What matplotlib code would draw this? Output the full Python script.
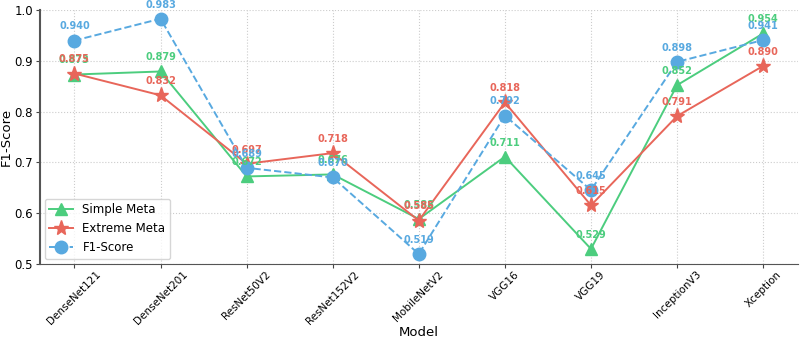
import matplotlib
matplotlib.use('Agg')
import matplotlib.pyplot as plt
import numpy as np

models = ['DenseNet121', 'DenseNet201', 'ResNet50V2', 'ResNet152V2', 'MobileNetV2',
          'VGG16', 'VGG19', 'InceptionV3', 'Xception']
simple_meta = [0.873, 0.879, 0.672, 0.676, 0.588, 0.711, 0.529, 0.852, 0.954]
extreme_meta = [0.875, 0.832, 0.697, 0.718, 0.585, 0.818, 0.615, 0.791, 0.890]
f1_score = [0.940, 0.983, 0.689, 0.670, 0.519, 0.792, 0.645, 0.898, 0.941]

green = '#4ccd7e'
red = '#e8665a'
blue = '#58a9e0'

fig, ax = plt.subplots(figsize=(8, 3.38), dpi=100)
x = np.arange(len(models))

ax.plot(x, simple_meta, '-^', color=green, lw=1.4, ms=9, label='Simple Meta')
ax.plot(x, extreme_meta, '-*', color=red, lw=1.4, ms=11, label='Extreme Meta')
ax.plot(x, f1_score, '--o', color=blue, lw=1.4, ms=9, label='F1-Score')

for vals, c in [(simple_meta, green), (extreme_meta, red), (f1_score, blue)]:
    for xi, v in zip(x, vals):
        ax.annotate(f'{v:.3f}', (xi, v), textcoords='offset points', xytext=(0, 8),
                    ha='center', fontsize=7, fontweight='bold', color=c)

ax.set_xticks(x)
ax.set_xticklabels(models, rotation=45, fontsize=7.5)
ax.set_ylim(0.5, 1.0)
ax.set_yticks([0.5, 0.6, 0.7, 0.8, 0.9, 1.0])
ax.tick_params(axis='y', labelsize=8.5, pad=2)
ax.tick_params(axis='x', pad=1)
ax.tick_params(length=3, color='#444444')
ax.set_xlabel('Model', fontsize=9.5, labelpad=0)
ax.set_ylabel('F1-Score', fontsize=9.5, labelpad=1)
ax.grid(True, linestyle=':', color='#cccccc', lw=0.8)
ax.spines['top'].set_visible(False)
ax.spines['right'].set_visible(False)
ax.spines['left'].set_color('#555555')
ax.spines['left'].set_linewidth(1.5)
ax.spines['bottom'].set_color('#555555')
ax.legend(loc='lower left', fontsize=8.5, borderaxespad=0.4)

fig.subplots_adjust(left=0.05, right=0.997, top=0.97, bottom=0.22)
fig.savefig('out.png')
